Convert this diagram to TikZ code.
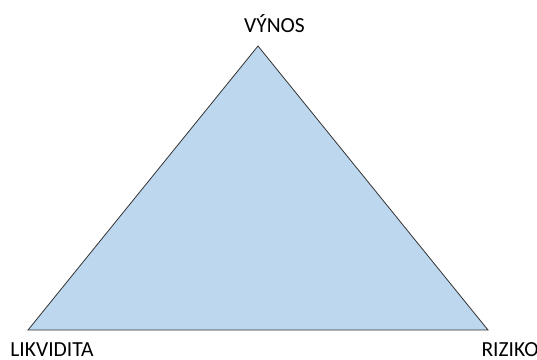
\documentclass[tikz,border=0pt]{standalone}
\usepackage{fontspec}
\setmainfont{Carlito}
\definecolor{trifill}{RGB}{189,215,238}
\begin{document}
\begin{tikzpicture}[x=1pt,y=-1pt,
  lbl/.style={font=\fontsize{21.5}{24}\selectfont, inner sep=0pt, text=black},
  tri/.style={fill=trifill, draw=black!80, line width=0.8pt, line join=miter}]
\useasboundingbox (0,0) rectangle (537,359);
\coordinate (top) at (258,46);
\coordinate (bl) at (28,330);
\coordinate (br) at (488,330);
\draw[tri] (top) -- (bl) -- (br) -- cycle;
\node[lbl] (vynos) at (274.5,24) {VÝNOS};
\node[lbl] (likv) at (52,349.5) {LIKVIDITA};
\node[lbl] (riz) at (510,349.5) {RIZIKO};
\end{tikzpicture}
\end{document}
